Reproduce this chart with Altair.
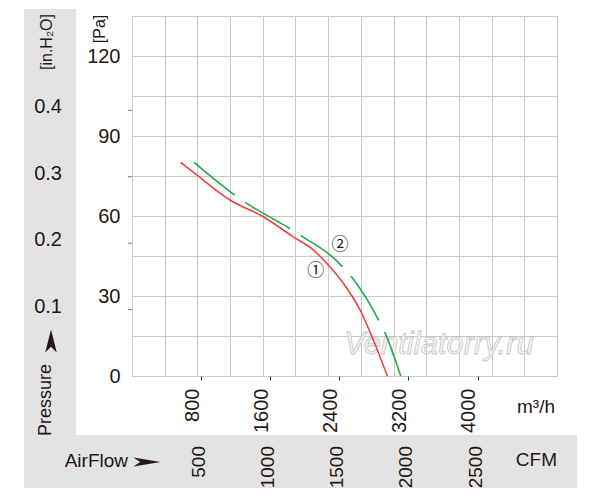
import altair as alt
import pandas as pd

# ---- data ----
c1_flow = [564, 749, 1135, 1520, 1867, 2099, 2273, 2446, 2640, 2794, 2956]
c1_pa = [80.1, 75.4, 66.0, 59.7, 52.2, 47.3, 41.6, 34.8, 24.8, 13.5, 0.0]

c2_flow = [718, 1154, 1289, 1841, 1976, 2292, 2466, 2562, 2871, 2929, 3111]
c2_pa = [80.1, 68.7, 65.6, 55.0, 52.2, 45.4, 40.0, 36.3, 20.0, 16.2, 0.0]

m3h_ticks = [800, 1600, 2400, 3200, 4000]
pa_ticks = [0, 30, 60, 90, 120]
inh2o_ticks = [0.1, 0.2, 0.3, 0.4]
inh2o_labels = ["0.1", "0.2", "0.3", "0.4"]
cfm_labels = ["500", "1000", "1500", "2000", "2500"]
cfm_pos = [800, 1600, 2400, 3200, 4000]

curve_tags = ["①", "②"]
tag_flow = [2127, 2408]
tag_pa = [39.4, 49.1]

PA_PER_INH2O = 249.09
X_MAX = 4920
Y_MAX = 135
grid_x = [X_MAX * i / 13 for i in range(14)]
grid_y = list(range(0, Y_MAX + 1, 15))

# ---- styles ----
F = "Liberation Sans, Arial, sans-serif"
TXT = "#231815"
GRID = "#c8c8c8"
BAND = "#e3e3e3"
RED = "#f0403c"
GREEN = "#22a84a"

xs = alt.Scale(domain=[0, X_MAX], nice=False, zero=False)
ys = alt.Scale(domain=[0, Y_MAX], nice=False, zero=False)

AX_X = alt.Axis(values=m3h_ticks, format="d", grid=False, title=None, labelAngle=270,
                labelAlign="right", labelBaseline="alphabetic", labelFontSize=20,
                labelFont=F, labelColor=TXT, tickColor="#333", tickSize=4,
                labelPadding=8, labelOffset=-3, domain=False, labelFlush=False,
                labelOverlap=False, orient="bottom")
AX_Y = alt.Axis(values=pa_ticks, format="d", grid=False, title=None, ticks=False,
                labelFontSize=20, labelFont=F, labelColor=TXT, labelPadding=12,
                domain=False, labelFlush=False, labelOverlap=False, orient="left")

df1 = pd.DataFrame({"flow": c1_flow, "pa": c1_pa})
df2 = pd.DataFrame({"flow": c2_flow, "pa": c2_pa})
one = pd.DataFrame({"a": [0]})

# grid carrier layer (independent scales, same domains)
grid_layer = alt.Chart(df1).mark_line(opacity=0).encode(
    x=alt.X("flow:Q", scale=alt.Scale(domain=[0, X_MAX], nice=False, zero=False),
            axis=alt.Axis(orient="top", values=grid_x, grid=True, gridColor=GRID,
                          gridWidth=1, labels=False, ticks=False, domain=False, title=None)),
    y=alt.Y("pa:Q", scale=alt.Scale(domain=[0, Y_MAX], nice=False, zero=False),
            axis=alt.Axis(orient="right", values=grid_y, grid=True, gridColor=GRID,
                          gridWidth=1, labels=False, ticks=False, domain=False, title=None)),
)

band_left = alt.Chart(one).mark_rect(color=BAND).encode(
    x=alt.value(-108), x2=alt.value(-56), y=alt.value(-7), y2=alt.value(419))
band_bottom = alt.Chart(one).mark_rect(color=BAND).encode(
    x=alt.value(-108), x2=alt.value(445), y=alt.value(419), y2=alt.value(472))

watermark = alt.Chart(one).mark_text(
    text="Ventilatorry.ru", font=F, fontStyle="italic",
    fontSize=31, fill="#f7f7f7", stroke="#c4c4c4", strokeWidth=0.8,
    align="center", baseline="middle").encode(x=alt.value(307), y=alt.value(329))

red_line = alt.Chart(df1).mark_line(color=RED, strokeWidth=1.6, interpolate="monotone").encode(
    x=alt.X("flow:Q", scale=xs, axis=AX_X),
    y=alt.Y("pa:Q", scale=ys, axis=AX_Y),
)

green_line = alt.Chart(df2).mark_line(color=GREEN, strokeWidth=1.6, interpolate="monotone",
                                      strokeDash=[52, 13]).encode(
    x=alt.X("flow:Q", scale=xs, axis=AX_X),
    y=alt.Y("pa:Q", scale=ys, axis=AX_Y),
)

tags = alt.Chart(pd.DataFrame({"flow": tag_flow, "pa": tag_pa, "t": curve_tags})).mark_text(
    font="Noto Sans CJK JP, DejaVu Sans, sans-serif", fontSize=17, color=TXT,
    align="center", baseline="middle").encode(
    x=alt.X("flow:Q", scale=xs, axis=AX_X),
    y=alt.Y("pa:Q", scale=ys, axis=AX_Y),
    text="t:N")

inh_df = pd.DataFrame({"pa": [v * PA_PER_INH2O for v in inh2o_ticks], "label": inh2o_labels})
inh_text = alt.Chart(inh_df).mark_text(
    font=F, fontSize=20, color=TXT, align="right", baseline="middle", dy=-3).encode(
    x=alt.value(-70), y=alt.Y("pa:Q", scale=ys, axis=AX_Y), text="label:N")
inh_ticks = alt.Chart(inh_df).mark_rule(color="#777", strokeWidth=1).encode(
    x=alt.value(-4), x2=alt.value(0), y=alt.Y("pa:Q", scale=ys, axis=AX_Y))

cfm_text = alt.Chart(pd.DataFrame({"pos": cfm_pos, "label": cfm_labels})).mark_text(
    font=F, fontSize=19, color=TXT, angle=270, align="right", baseline="alphabetic",
    dy=4).encode(
    x=alt.X("pos:Q", scale=xs, axis=AX_X), y=alt.value(430), text="label:N")


def label(txt, x, y, size=20, angle=0, align="center"):
    return alt.Chart(one).mark_text(text=txt, font=F, fontSize=size, color=TXT, angle=angle,
                                    align=align, baseline="middle").encode(
        x=alt.value(x), y=alt.value(y))


lbl_inh = label("[in.H₂O]", -85, 26, 16, 270)
lbl_pa = label("[Pa]", -32, 13, 16, 270)
lbl_pressure = label("Pressure", -86, 384, 18, 270)
lbl_airflow = label("AirFlow", -4, 445, 19, 0, "right")
lbl_m3h = label("m³/h", 423, 391, 19, 0, "right")
lbl_cfm = label("CFM", 425, 444, 19, 0, "right")

arrow_r = "M -1 -0.34 L 1 0 L -1 0.34 L -0.5 0 Z"
arrow_u = "M -1 -0.5 L 1 0 L -1 0.5 L -0.5 0 Z"
arr_air = alt.Chart(one).mark_point(shape=arrow_r, filled=True, size=729, color=TXT,
                                    opacity=1, strokeWidth=0).encode(
    x=alt.value(15), y=alt.value(446))
arr_pr = alt.Chart(one).mark_point(shape=arrow_u, filled=True, size=529, color=TXT,
                                   opacity=1, strokeWidth=0, angle=270).encode(
    x=alt.value(-81), y=alt.value(325))

main = alt.layer(band_left, band_bottom, watermark, red_line, green_line, tags,
                 inh_ticks, inh_text, cfm_text, lbl_inh, lbl_pa, lbl_pressure,
                 lbl_airflow, lbl_m3h, lbl_cfm, arr_air, arr_pr)

chart = alt.layer(grid_layer, main).resolve_scale(x="independent", y="independent").properties(
    width=425, height=360,
    padding={"left": 124, "top": 8, "right": 35, "bottom": 120},
    autosize=alt.AutoSizeParams(type="none"),
    background="white",
).configure_view(stroke=GRID, strokeWidth=1)

chart.save("out.html", embed_options={"renderer": "svg", "actions": False})
